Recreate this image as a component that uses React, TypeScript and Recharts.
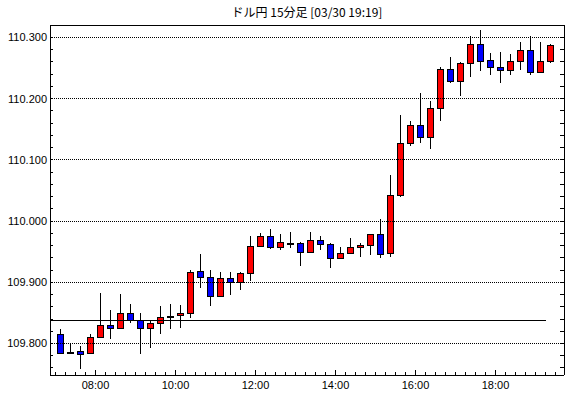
import React from "react";
import { Bar, ComposedChart, ReferenceLine, XAxis, YAxis } from "recharts";

// 15-minute candles, 07:00 - 19:15
const times = [
	"07:00", "07:15", "07:30", "07:45", "08:00", "08:15", "08:30", "08:45",
	"09:00", "09:15", "09:30", "09:45", "10:00", "10:15", "10:30", "10:45",
	"11:00", "11:15", "11:30", "11:45", "12:00", "12:15", "12:30", "12:45",
	"13:00", "13:15", "13:30", "13:45", "14:00", "14:15", "14:30", "14:45",
	"15:00", "15:15", "15:30", "15:45", "16:00", "16:15", "16:30", "16:45",
	"17:00", "17:15", "17:30", "17:45", "18:00", "18:15", "18:30", "18:45",
	"19:00", "19:15",
];

const opens = [
	109.815, 109.786, 109.787, 109.784, 109.81, 109.831, 109.826, 109.849,
	109.839, 109.825, 109.833, 109.845, 109.846, 109.849, 109.918, 109.908,
	109.877, 109.907, 109.9, 109.915, 109.959, 109.975, 109.957, 109.964,
	109.964, 109.95, 109.969, 109.962, 109.939, 109.948, 109.957, 109.961,
	109.979, 109.948, 110.042, 110.128, 110.157, 110.138, 110.185, 110.248,
	110.229, 110.258, 110.289, 110.263, 110.252, 110.247, 110.261, 110.279,
	110.244, 110.262,
];

const highs = [
	109.823, 109.8, 109.796, 109.815, 109.882, 109.855, 109.881, 109.864,
	109.849, 109.837, 109.862, 109.864, 109.863, 109.92, 109.946, 109.92,
	109.916, 109.916, 109.916, 109.975, 109.98, 109.987, 109.979, 109.982,
	109.966, 109.982, 109.976, 109.964, 109.957, 109.972, 109.964, 109.979,
	110.004, 110.076, 110.173, 110.164, 110.209, 110.197, 110.251, 110.268,
	110.26, 110.303, 110.312, 110.274, 110.276, 110.273, 110.292, 110.303,
	110.292, 110.29,
];

const lows = [
	109.782, 109.786, 109.759, 109.783, 109.81, 109.807, 109.825, 109.834,
	109.783, 109.792, 109.815, 109.823, 109.826, 109.842, 109.89, 109.862,
	109.877, 109.88, 109.887, 109.902, 109.959, 109.955, 109.953, 109.956,
	109.927, 109.95, 109.952, 109.924, 109.939, 109.947, 109.942, 109.944,
	109.939, 109.942, 110.04, 110.122, 110.127, 110.118, 110.163, 110.226,
	110.205, 110.235, 110.245, 110.239, 110.226, 110.238, 110.247, 110.239,
	110.244, 110.259,
];

const closes = [
	109.785, 109.786, 109.783, 109.81, 109.831, 109.826, 109.849, 109.838,
	109.825, 109.833, 109.844, 109.845, 109.849, 109.917, 109.908, 109.878,
	109.907, 109.9, 109.915, 109.959, 109.975, 109.957, 109.966, 109.964,
	109.95, 109.969, 109.962, 109.939, 109.948, 109.957, 109.961, 109.979,
	109.946, 110.042, 110.128, 110.157, 110.138, 110.185, 110.248, 110.229,
	110.258, 110.289, 110.262, 110.252, 110.247, 110.261, 110.279, 110.244,
	110.262, 110.287,
];

const xLabels = ["08:00", "10:00", "12:00", "14:00", "16:00", "18:00"];
const yLabels = ["109.800", "109.900", "110.000", "110.100", "110.200", "110.300"];

const baseLine = 109.838;
const baseLineEnd = "19:15";
const title = "ドル円 15分足 [03/30 19:19]";

const toMin = (s: string) => {
	const [h, m] = s.split(":").map(Number);
	return h * 60 + m;
};

const data = times.map((t, i) => ({
	t: toMin(t) + 7.5,
	open: opens[i],
	high: highs[i],
	low: lows[i],
	close: closes[i],
	range: [lows[i], highs[i]],
}));

const X_DOMAIN: [number, number] = [411.75, 1182.75];
const Y_DOMAIN: [number, number] = [109.7485, 110.3204];

const xTicks: number[] = [];
for (let m = 420; m <= 1170; m += 15) xTicks.push(m);
const yTicks: number[] = [];
for (let k = 0; k <= 27; k++) yTicks.push(Number((109.76 + 0.02 * k).toFixed(2)));

const FONT = "'Liberation Sans', Arial, sans-serif";

function Candle(props: any) {
	const { x, y, width, height, payload } = props;
	const { open, high, low, close } = payload;
	const py = (p: number) => y + ((high - p) / (high - low)) * height;
	const cx = Math.floor(x + width / 2) + 0.5;
	const yH = Math.round(py(high));
	const yL = Math.round(py(low));
	const yO = py(open);
	const yC = py(close);
	const top = Math.round(Math.min(yO, yC)) + 0.5;
	const bot = Math.round(Math.max(yO, yC)) + 0.5;
	const fill = close > open ? "#ff0000" : "#0000ff";
	return (
		<g>
			<line x1={cx} x2={cx} y1={yH} y2={yL} stroke="#000" />
			{bot - top < 1 ? (
				<line x1={cx - 3.5} x2={cx + 3.5} y1={top} y2={top} stroke="#000" strokeWidth={2} />
			) : (
				<rect x={cx - 3} y={top} width={6} height={bot - top} fill={fill} stroke="#000" />
			)}
		</g>
	);
}

const BottomTick = (props: any) => {
	const { x, y, payload } = props;
	const label = xLabels.find((l) => toMin(l) === payload.value);
	return (
		<g>
			<line x1={x} x2={x} y1={y} y2={y - (label ? 5 : 3)} stroke="#000" />
			{label && (
				<text x={x} y={y + 14} textAnchor="middle" fontSize={11} fontFamily={FONT} fill="#000">
					{label}
				</text>
			)}
		</g>
	);
};

const TopTick = (props: any) => {
	const { x, y, payload } = props;
	const major = xLabels.some((l) => toMin(l) === payload.value);
	return <line x1={x} x2={x} y1={y} y2={y + (major ? 5 : 3)} stroke="#000" />;
};

const LeftTick = (props: any) => {
	const { x, y, payload } = props;
	const label = yLabels.find((l) => Math.abs(Number(l) - payload.value) < 0.001);
	return (
		<g>
			<line x1={x} x2={x + 3} y1={y} y2={y} stroke="#000" />
			{label && (
				<text x={x - 3} y={y + 4} textAnchor="end" fontSize={11} fontFamily={FONT} fill="#000">
					{label}
				</text>
			)}
		</g>
	);
};

const RightTick = (props: any) => {
	const { x, y } = props;
	return <line x1={x - 4} x2={x} y1={y} y2={y} stroke="#000" />;
};

export default function App() {
	return (
		<div style={{ position: "absolute", left: 0, top: 0, width: 570, height: 398, background: "#fff" }}>
			<style>{`.recharts-surface{shape-rendering:crispEdges}`}</style>
			<div
				style={{
					position: "absolute",
					left: 50,
					width: 514,
					top: 4,
					textAlign: "center",
					fontSize: 12,
					lineHeight: "16px",
					fontFamily: "'Noto Sans CJK JP', sans-serif",
					color: "#000",
				}}
			>
				{title}
			</div>
			<ComposedChart width={570} height={398} data={data} margin={{ top: 5, right: 0, bottom: 0, left: 0 }}>
				<XAxis
					dataKey="t"
					type="number"
					domain={X_DOMAIN}
					allowDataOverflow
					ticks={xTicks}
					interval={0}
					height={23}
					tickSize={0}
					tickMargin={0}
					tickLine={false}
					axisLine={{ stroke: "#000" }}
					tick={(p: any) => <BottomTick {...p} />}
				/>
				<XAxis
					xAxisId="top"
					orientation="top"
					type="number"
					domain={X_DOMAIN}
					allowDataOverflow
					ticks={xTicks}
					interval={0}
					height={20}
					tickSize={0}
					tickMargin={0}
					tickLine={false}
					axisLine={{ stroke: "#000" }}
					tick={(p: any) => <TopTick {...p} />}
				/>
				<YAxis
					type="number"
					domain={Y_DOMAIN}
					allowDataOverflow
					ticks={yTicks}
					interval={0}
					width={50}
					tickSize={0}
					tickMargin={0}
					tickLine={false}
					axisLine={{ stroke: "#000" }}
					tick={(p: any) => <LeftTick {...p} />}
				/>
				<YAxis
					yAxisId="right"
					orientation="right"
					type="number"
					domain={Y_DOMAIN}
					allowDataOverflow
					ticks={yTicks}
					interval={0}
					width={6}
					tickSize={0}
					tickMargin={0}
					tickLine={false}
					axisLine={{ stroke: "#000" }}
					tick={(p: any) => <RightTick {...p} />}
				/>
				{yLabels.map((v) => (
					<ReferenceLine key={v} y={Number(v)} stroke="#000" strokeDasharray="1 1" />
				))}
				<ReferenceLine
					segment={[
						{ x: X_DOMAIN[0], y: baseLine },
						{ x: toMin(baseLineEnd), y: baseLine },
					]}
					stroke="#000"
				/>
				<Bar dataKey="range" barSize={7} isAnimationActive={false} shape={(p: any) => <Candle {...p} />} />
			</ComposedChart>
		</div>
	);
}
